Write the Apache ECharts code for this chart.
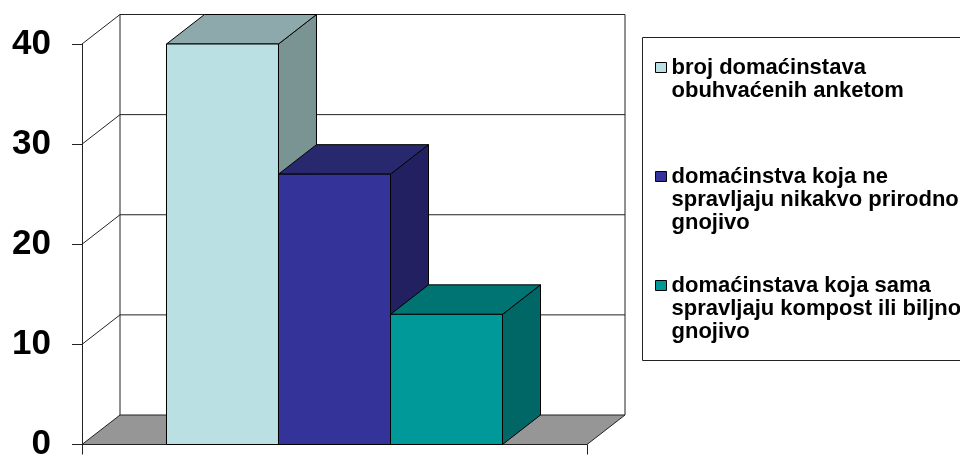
<!DOCTYPE html>
<html>
<head>
<meta charset="utf-8">
<script src="https://cdn.jsdelivr.net/npm/echarts@6/dist/echarts.min.js"></script>
<style>
  html, body { margin: 0; padding: 0; background: #fff; }
  #chart { width: 960px; height: 462px; }
</style>
</head>
<body>
<div id="chart"></div>
<script>
// data
const categories = [""];
const seriesLines = [
  ["broj domaćinstava", "obuhvaćenih anketom"],
  ["domaćinstva koja ne", "spravljaju nikakvo prirodno", "gnojivo"],
  ["domaćinstava koja sama", "spravljaju kompost ili biljno", "gnojivo"]
];
const seriesValues = [40, 27, 13];
const yTicks = [0, 10, 20, 30, 40];

// styling
const frontColors = ["#BBE0E3", "#333399", "#009999"];
const topColors = ["#8EA9AB", "#28286F", "#007373"];
const sideColors = ["#7A9494", "#222061", "#006666"];
const DX = 38, DY = -29.5;     // depth of the 3D effect
const BAR_FRAC = 0.2218;       // bar width relative to category width
const FONT = "'Liberation Sans', Arial, sans-serif";
const LEGEND_LH = 23;

const seriesNames = seriesLines.map((l) => l.join(" "));

const chart = echarts.init(document.getElementById("chart"));

// back wall, left wall and floor
const wallSeries = {
  type: "custom",
  name: "wall",
  z: 1,
  silent: true,
  data: yTicks.map((v) => [0, v]),
  renderItem: (params, api) => {
    const cs = params.coordSys;
    const left = cs.x, right = cs.x + cs.width;
    const y = api.coord([0, api.value(1)])[1];
    const line = { stroke: "#222", lineWidth: 1 };
    const children = [];
    if (api.value(1) === yTicks[0]) {
      children.push({
        type: "polygon",
        shape: { points: [[left, y], [left + DX, y + DY], [right + DX, y + DY], [right, y]] },
        style: { fill: "#969696", stroke: "#222", lineWidth: 1 },
      });
      const yTop = api.coord([0, yTicks[yTicks.length - 1]])[1];
      children.push({
        type: "line",
        shape: { x1: left + DX, y1: y + DY, x2: left + DX, y2: yTop + DY },
        style: line,
      });
      children.push({
        type: "line",
        shape: { x1: right + DX, y1: y + DY, x2: right + DX, y2: yTop + DY },
        style: line,
      });
    } else {
      children.push({
        type: "line",
        shape: { x1: left, y1: y, x2: left + DX, y2: y + DY },
        style: line,
      });
      children.push({
        type: "line",
        shape: { x1: left + DX, y1: y + DY, x2: right + DX, y2: y + DY },
        style: line,
      });
    }
    return { type: "group", children };
  },
};

// 3D bars
const barSeries = seriesNames.map((name, idx) => ({
  type: "custom",
  name,
  z: 2,
  itemStyle: { color: frontColors[idx] },
  data: [[0, seriesValues[idx]]],
  renderItem: (params, api) => {
    const top = api.coord([api.value(0), api.value(1)]);
    const base = api.coord([api.value(0), 0]);
    const bw = api.size([1, 0])[0] * BAR_FRAC;
    const x0 = top[0] - 1.5 * bw + idx * bw;
    const x1 = x0 + bw;
    const edge = { stroke: "#000", lineWidth: 1 };
    return {
      type: "group",
      children: [
        {
          type: "polygon",
          shape: { points: [[x1, top[1]], [x1 + DX, top[1] + DY], [x1 + DX, base[1] + DY], [x1, base[1]]] },
          style: Object.assign({ fill: sideColors[idx] }, edge),
        },
        {
          type: "polygon",
          shape: { points: [[x0, top[1]], [x0 + DX, top[1] + DY], [x1 + DX, top[1] + DY], [x1, top[1]]] },
          style: Object.assign({ fill: topColors[idx] }, edge),
        },
        {
          type: "rect",
          shape: { x: x0, y: top[1], width: bw, height: base[1] - top[1] },
          style: Object.assign({ fill: frontColors[idx] }, edge),
        },
      ],
    };
  },
}));

const option = {
  animation: false,
  grid: { left: 82, right: 373, top: 44, bottom: 14 },
  xAxis: {
    type: "category",
    data: categories,
    boundaryGap: true,
    axisLine: { show: true, lineStyle: { color: "#222", width: 1 } },
    axisTick: { show: true, length: 10, lineStyle: { color: "#222" } },
    axisLabel: { show: false },
    splitLine: { show: false },
  },
  yAxis: {
    type: "value",
    min: 0,
    max: 40,
    interval: 10,
    axisLine: { show: true, lineStyle: { color: "#222", width: 1 } },
    axisTick: { show: true, length: 10, lineStyle: { color: "#222" } },
    axisLabel: {
      margin: 31,
      color: "#000",
      fontFamily: FONT,
      fontWeight: "bold",
      fontSize: 35,
    },
    splitLine: { show: false },
  },
  legend: {
    data: seriesNames,
    orient: "vertical",
    left: 655,
    top: 10,
    padding: 0,
    itemGap: -6,
    itemWidth: 11,
    itemHeight: 10,
    icon: "rect",
    selectedMode: false,
    itemStyle: { borderColor: "#000", borderWidth: 1 },
    textStyle: {
      color: "#000",
      fontFamily: FONT,
      fontWeight: "bold",
      fontSize: 22,
      lineHeight: LEGEND_LH,
    },
    // pad each entry to 5 lines so the icon sits beside the first line
    formatter: (name) => {
      const lines = seriesLines[seriesNames.indexOf(name)].slice();
      while (lines.length < 3) lines.push("");
      return ["", ""].concat(lines).join("\n");
    },
  },
  graphic: [
    {
      type: "rect",
      shape: { x: 642.5, y: 37.5, width: 400, height: 323 },
      style: { fill: "none", stroke: "#222", lineWidth: 1 },
      silent: true,
    },
  ],
  series: [wallSeries].concat(barSeries),
};

chart.setOption(option);
</script>
</body>
</html>
